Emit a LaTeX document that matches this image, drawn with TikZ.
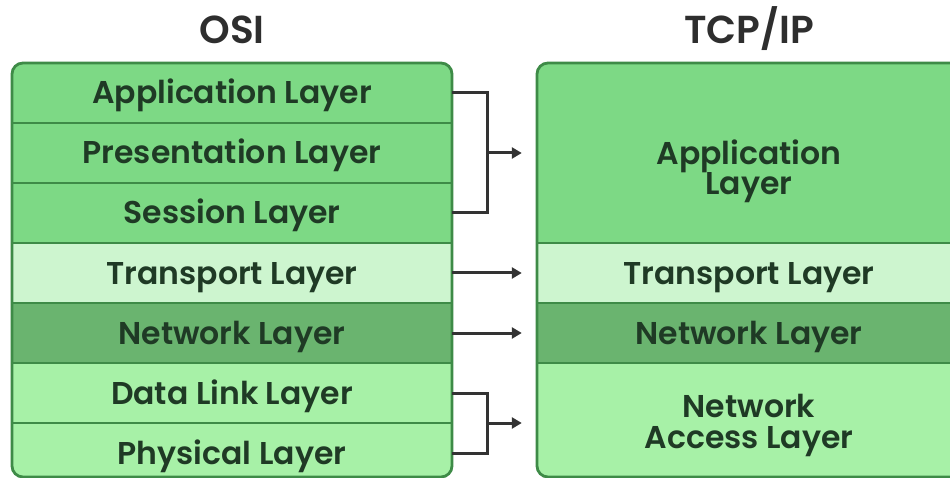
\documentclass[tikz,border=0pt]{standalone}
\usepackage{fontspec}
\setmainfont{Poppins}
\newfontfamily\rowfont{Poppins SemiBold}
\newfontfamily\titlefont{Poppins SemiBold}
\usetikzlibrary{arrows.meta}
\definecolor{gmed}{HTML}{7DD985}
\definecolor{glight}{HTML}{CDF5CF}
\definecolor{gdark}{HTML}{6AB46F}
\definecolor{gpale}{HTML}{A7F1A7}
\definecolor{gborder}{HTML}{3E8B47}
\definecolor{txt}{HTML}{1F3A25}
\definecolor{arr}{HTML}{333333}
\begin{document}
\begin{tikzpicture}[x=1pt,y=-1pt,
  rowtext/.style={font=\rowfont\fontsize{31.5}{30.5}\selectfont, text=txt, align=center, inner sep=0pt},
  lrow/.style={rowtext, minimum width=440pt, minimum height=60pt, text height=22pt, text depth=0pt},
  rbox/.style={minimum width=424pt, inner sep=0pt},
  rrow/.style={rowtext, rbox, minimum height=60pt, text height=22pt, text depth=0pt},
  divider/.style={gborder, line width=2.5pt},
  frame/.style={gborder, line width=2.8pt, rounded corners=11pt},
  conn/.style={arr, line width=3pt},
  arrowc/.style={conn, -{Triangle[length=10pt,width=11pt]}},
  title/.style={font=\titlefont\fontsize{39}{42}\selectfont, text=black!82, inner sep=0pt, anchor=base}]
\useasboundingbox (0,0) rectangle (950,478);
% titles
\node[title] (osi) at (232,44) {OSI};
\node[title] (tcp) at (749,44) {TCP/IP};
% left box
\begin{scope}
\clip[rounded corners=11pt] (12,63) rectangle (452,477);
\node[lrow, fill=gmed] (app) at (232,93) {Application Layer};
\node[lrow, fill=gmed] (pres) at (232,153) {Presentation Layer};
\node[lrow, fill=gmed] (sess) at (232,213) {Session Layer};
\node[lrow, fill=glight] (trans) at (232,273) {Transport Layer};
\node[lrow, fill=gdark] (net) at (232,333) {Network Layer};
\node[lrow, fill=gpale] (dl) at (232,393) {Data Link Layer};
\node[lrow, fill=gpale] (phy) at (232,453) {Physical Layer};
\end{scope}
\foreach \y in {123,183,243,303,363,423} \draw[divider] (12,\y) -- (452,\y);
\draw[frame] (12,63) rectangle (452,477);
% right box
\begin{scope}
\clip[rounded corners=11pt] (537,63) rectangle (961,477);
\node[rbox, minimum height=180pt, fill=gmed] (tapp) at (749,153) {};
\node[rrow, fill=glight] (ttrans) at (749,273) {Transport Layer};
\node[rrow, fill=gdark] (tnet) at (749,333) {Network Layer};
\node[rbox, minimum height=120pt, fill=gpale] (tacc) at (749,423) {};
\end{scope}
\node[rowtext, anchor=base] (tappt) at (749,195) {Application\\Layer};
\node[rowtext, anchor=base] (tacct) at (749,448) {Network\\Access Layer};
\foreach \y in {243,303,363} \draw[divider] (537,\y) -- (961,\y);
\draw[frame] (537,63) rectangle (961,477);
% connectors
\coordinate (b1) at (487,153);
\coordinate (b2) at (487,423);
\draw[conn] (app.east) -| (b1) |- (sess.east);
\draw[arrowc, shorten >=15pt] (b1) -- (tapp.west);
\draw[arrowc, shorten >=15pt] (trans.east) -- (ttrans.west);
\draw[arrowc, shorten >=15pt] (net.east) -- (tnet.west);
\draw[conn] (dl.east) -| (b2) |- (phy.east);
\draw[arrowc, shorten >=15pt] (b2) -- (tacc.west);
\end{tikzpicture}
\end{document}
